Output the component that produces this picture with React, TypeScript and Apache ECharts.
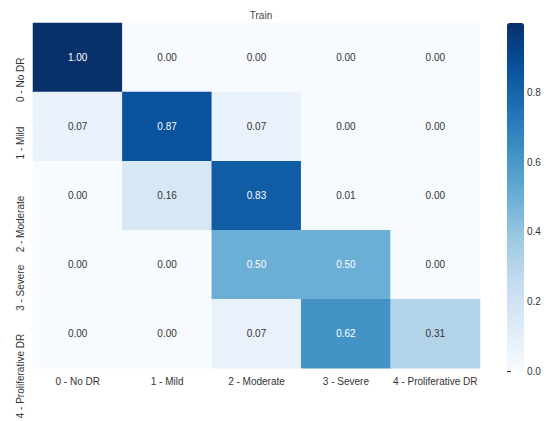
import React, { useEffect, useRef } from "react";
import * as echarts from "echarts";

const categories = ["0 - No DR", "1 - Mild", "2 - Moderate", "3 - Severe", "4 - Proliferative DR"];
const row0 = [1.0, 0.0, 0.0, 0.0, 0.0];
const row1 = [0.07, 0.87, 0.07, 0.0, 0.0];
const row2 = [0.0, 0.16, 0.83, 0.01, 0.0];
const row3 = [0.0, 0.0, 0.5, 0.5, 0.0];
const row4 = [0.0, 0.0, 0.07, 0.62, 0.31];
const rows = [row0, row1, row2, row3, row4];
const colorbarTicks = [0, 0.2, 0.4, 0.6, 0.8];
const blues = ["#f7fbff", "#deebf7", "#c6dbef", "#9ecae1", "#6baed6", "#4292c6", "#2171b5", "#08519c", "#08306b"];

const FONT = "Liberation Sans, Arial, sans-serif";

export default function App() {
  const ref = useRef<HTMLDivElement>(null);
  useEffect(() => {
    if (!ref.current) return;
    const chart = echarts.init(ref.current, undefined, { renderer: "svg" });
    const data: any[] = [];
    rows.forEach((r, y) =>
      r.forEach((v, x) => {
        data.push({
          value: [x, y, v],
          label: { color: v >= 0.4 ? "#ffffff" : "#333333" },
        });
      })
    );
    chart.setOption({
      animation: false,
      backgroundColor: "#ffffff",
      textStyle: { fontFamily: FONT },
      title: {
        text: "Train",
        left: 256,
        textAlign: "center",
        top: 5,
        textStyle: { fontSize: 10, fontWeight: "normal", color: "#444", fontFamily: FONT },
      },
      grid: [
        { left: 33, top: 23, width: 447, height: 348 },
        { left: 507, top: 23, width: 17, height: 348 },
      ],
      xAxis: [
        {
          type: "category",
          data: categories,
          gridIndex: 0,
          axisLine: { show: false },
          axisTick: { show: false },
          splitLine: { show: false },
          axisLabel: { interval: 0, fontSize: 10, color: "#333", margin: 8, fontFamily: FONT },
        },
        { type: "value", gridIndex: 1, show: false, min: 0, max: 1 },
      ],
      yAxis: [
        {
          type: "category",
          data: categories,
          inverse: true,
          gridIndex: 0,
          axisLine: { show: false },
          axisTick: { show: false },
          splitLine: { show: false },
          axisLabel: {
            interval: 0,
            fontSize: 10,
            color: "#333",
            rotate: 90,
            margin: 8,
            align: "right",
            verticalAlign: "bottom",
            fontFamily: FONT,
          },
        },
        {
          type: "value",
          gridIndex: 1,
          min: 0,
          max: 1,
          interval: 0.2,
          position: "right",
          axisLine: { show: false },
          axisTick: { show: true, length: 4, lineStyle: { color: "#333" } },
          splitLine: { show: false },
          axisLabel: {
            fontSize: 10,
            color: "#333",
            margin: 3,
            showMaxLabel: false,
            fontFamily: FONT,
            formatter: (v: number) => (colorbarTicks.some((t) => Math.abs(t - v) < 1e-6) ? v.toFixed(1) : ""),
          },
        },
      ],
      visualMap: {
        type: "continuous",
        min: 0,
        max: 1,
        seriesIndex: 0,
        calculable: false,
        orient: "vertical",
        left: 507,
        top: 23,
        padding: 0,
        itemWidth: 17,
        itemHeight: 348,
        inRange: { color: blues },
        textStyle: { fontSize: 0 },
      },
      series: [
        {
          type: "heatmap",
          xAxisIndex: 0,
          yAxisIndex: 0,
          data,
          label: {
            show: true,
            fontSize: 10,
            fontFamily: FONT,
            formatter: (p: any) => p.value[2].toFixed(2),
          },
          itemStyle: { borderWidth: 0 },
          emphasis: { disabled: true },
        },
      ],
    });
    return () => chart.dispose();
  }, []);
  return (
    <div
      ref={ref}
      style={{ position: "fixed", left: 0, top: 0, width: 548, height: 421 }}
    />
  );
}
